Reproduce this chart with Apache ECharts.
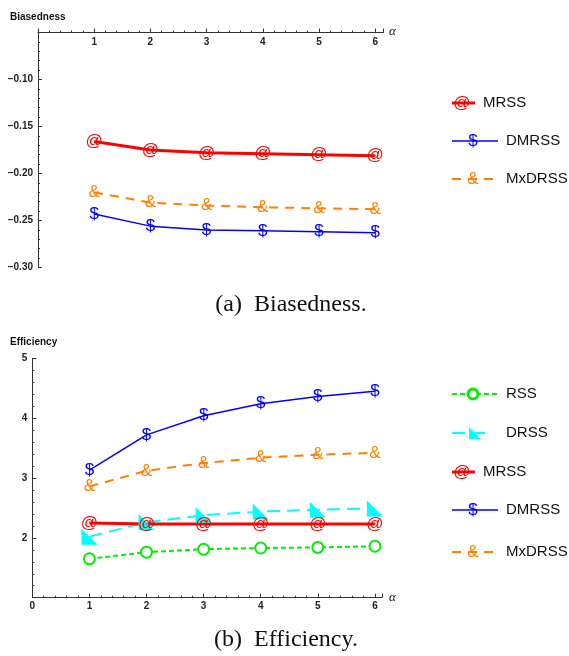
<!DOCTYPE html>
<html lang="en">
<head>
  <meta charset="UTF-8">
  <title>Biasedness and Efficiency</title>
  <script src="https://cdn.jsdelivr.net/npm/echarts@6/dist/echarts.min.js"></script>
  <style>
    html, body { margin: 0; padding: 0; background: #fff; }
    #chart { width: 569px; height: 656px; }
  </style>
</head>
<body>
  <div id="chart"></div>
  <script>
    const alpha = [1, 2, 3, 4, 5, 6]
    // (a) Biasedness
    const biasMRSS = [-0.166, -0.175, -0.178, -0.179, -0.180, -0.181]
    const biasDMRSS = [-0.243, -0.256, -0.260, -0.261, -0.262, -0.263]
    const biasMxDRSS = [-0.220, -0.231, -0.234, -0.236, -0.237, -0.238]
    // (b) Efficiency
    const effRSS = [1.65, 1.76, 1.81, 1.83, 1.84, 1.86]
    const effDRSS = [2.02, 2.26, 2.38, 2.44, 2.47, 2.49]
    const effMRSS = [2.25, 2.23, 2.23, 2.23, 2.23, 2.23]
    const effDMRSS = [3.13, 3.72, 4.04, 4.24, 4.36, 4.45]
    const effMxDRSS = [2.86, 3.12, 3.25, 3.34, 3.39, 3.42]

    const RED = '#ff0000', BLUE = '#0000ff', ORANGE = '#ff8000', GREEN = '#00ee00', CYAN = '#00ffff'
    const AXIS = '#333'
    const tickFont = { fontSize: 10, fontWeight: 'bold', color: '#222', fontFamily: 'Liberation Sans' }
    const ORANGE_DASH = [9, 7], GREEN_DASH = [5, 3], CYAN_DASH = [13, 7]

    const dom = document.getElementById('chart')
    const myChart = echarts.init(dom)

    function pairs(vals) {
      return alpha.map((a, i) => [a, vals[i]])
    }

    // line with a text glyph as marker
    function glyphLine(name, vals, idx, color, width, dash, glyph, size) {
      return {
        name: name,
        type: 'line',
        xAxisIndex: idx,
        yAxisIndex: idx,
        data: pairs(vals),
        symbol: 'circle',
        symbolSize: 1,
        itemStyle: { color: color },
        lineStyle: { color: color, width: width, type: dash },
        label: {
          show: true,
          position: 'inside',
          formatter: glyph,
          color: color,
          fontSize: size,
          fontFamily: 'Liberation Sans'
        },
        z: 3
      }
    }

    function xAxisCfg(idx, pos, max, showZero) {
      const top = pos === 'top'
      return {
        type: 'value',
        gridIndex: idx,
        position: pos,
        min: 0,
        max: max,
        interval: 1,
        axisLine: { onZero: false, lineStyle: { color: AXIS, width: 1 } },
        axisTick: { inside: !top, length: 4, lineStyle: { color: AXIS } },
        minorTick: { show: true, splitNumber: 5, length: 2, lineStyle: { color: AXIS } },
        axisLabel: Object.assign({
          inside: top,
          margin: top ? 5 : 4,
          formatter: v => (Math.abs(v - Math.round(v)) < 1e-6 && (showZero || v > 0.5)) ? String(Math.round(v)) : ''
        }, tickFont),
        splitLine: { show: false }
      }
    }

    function yAxisCfg(idx, min, max, interval, fmt) {
      return {
        type: 'value',
        gridIndex: idx,
        min: min,
        max: max,
        interval: interval,
        axisLine: { onZero: true, lineStyle: { color: AXIS, width: 1 } },
        axisTick: { inside: true, length: 4, lineStyle: { color: AXIS } },
        minorTick: { show: true, splitNumber: 5, length: 2, lineStyle: { color: AXIS } },
        axisLabel: Object.assign({ margin: 5, formatter: fmt }, tickFont),
        splitLine: { show: false }
      }
    }

    // legend drawn as graphic pieces
    function legendItem(y, cfg) {
      const items = [{
        type: 'line',
        shape: { x1: 452, y1: y, x2: cfg.x2, y2: y },
        style: { stroke: cfg.color, lineWidth: cfg.width, lineDash: cfg.dash || null }
      }]
      if (cfg.glyph) {
        items.push({
          type: 'text', x: cfg.gx, y: y,
          style: { text: cfg.glyph, fill: cfg.color, fontSize: cfg.gsize, fontFamily: 'Liberation Sans', align: 'center', verticalAlign: 'middle' }
        })
      } else if (cfg.circle) {
        items.push({
          type: 'circle', shape: { cx: cfg.gx, cy: y, r: 5 },
          style: { fill: '#fff', stroke: cfg.color, lineWidth: 3 }
        })
      } else if (cfg.tri) {
        items.push({
          type: 'polygon', shape: { points: [[cfg.gx - 5, y - 6], [cfg.gx - 5, y + 6], [cfg.gx + 7, y + 6]] },
          style: { fill: cfg.color }
        })
      }
      items.push({
        type: 'text', x: cfg.tx, y: y,
        style: { text: cfg.text, fill: '#111', fontSize: 15, fontFamily: 'Liberation Sans', verticalAlign: 'middle' }
      })
      return items
    }

    const graphics = [].concat(
      legendItem(103, { x2: 475, color: RED, width: 3, glyph: '@', gx: 462, gsize: 17, tx: 483, text: 'MRSS' }),
      legendItem(141, { x2: 498, color: BLUE, width: 1.5, glyph: '$', gx: 473, gsize: 17, tx: 506, text: 'DMRSS' }),
      legendItem(179, { x2: 494, color: ORANGE, width: 2, dash: ORANGE_DASH, glyph: '&', gx: 473, gsize: 17, tx: 506, text: 'MxDRSS' }),
      legendItem(394, { x2: 498, color: GREEN, width: 2, dash: GREEN_DASH, circle: true, gx: 473, tx: 506, text: 'RSS' }),
      legendItem(433, { x2: 490, color: CYAN, width: 2, dash: CYAN_DASH, tri: true, gx: 474, tx: 506, text: 'DRSS' }),
      legendItem(472, { x2: 475, color: RED, width: 3, glyph: '@', gx: 462, gsize: 17, tx: 483, text: 'MRSS' }),
      legendItem(510, { x2: 498, color: BLUE, width: 1.5, glyph: '$', gx: 473, gsize: 17, tx: 506, text: 'DMRSS' }),
      legendItem(552, { x2: 494, color: ORANGE, width: 2, dash: ORANGE_DASH, glyph: '&', gx: 473, gsize: 17, tx: 506, text: 'MxDRSS' }),
      [
        { type: 'text', x: 10, y: 17, style: { text: 'Biasedness', fill: '#111', fontSize: 10, fontWeight: 'bold', fontFamily: 'Liberation Sans', verticalAlign: 'middle' } },
        { type: 'text', x: 10, y: 342, style: { text: 'Efficiency', fill: '#111', fontSize: 10, fontWeight: 'bold', fontFamily: 'Liberation Sans', verticalAlign: 'middle' } },
        { type: 'text', x: 389, y: 32, style: { text: 'α', fill: '#111', fontSize: 13, fontStyle: 'italic', fontFamily: 'Liberation Serif', verticalAlign: 'middle' } },
        { type: 'text', x: 389, y: 598, style: { text: 'α', fill: '#111', fontSize: 13, fontStyle: 'italic', fontFamily: 'Liberation Serif', verticalAlign: 'middle' } },
        { type: 'text', x: 291, y: 305, style: { text: '(a)  Biasedness.', fill: '#111', fontSize: 24, fontFamily: 'Liberation Serif', align: 'center', verticalAlign: 'middle' } },
        { type: 'text', x: 286, y: 640, style: { text: '(b)  Efficiency.', fill: '#111', fontSize: 24, fontFamily: 'Liberation Serif', align: 'center', verticalAlign: 'middle' } }
      ]
    )

    const option = {
      backgroundColor: '#fff',
      animation: false,
      grid: [
        { left: 38, top: 32.5, width: 345.6, height: 235 },
        { left: 32.3, top: 358.3, width: 349.5, height: 239.4 }
      ],
      xAxis: [
        xAxisCfg(0, 'top', 6.15, false),
        xAxisCfg(1, 'bottom', 6.12, true)
      ],
      yAxis: [
        yAxisCfg(0, -0.30, -0.05, 0.05, v => v > -0.07 ? '' : '\u2212' + Math.abs(v).toFixed(2)),
        yAxisCfg(1, 1, 5, 1, v => (v < 1.5 || Math.abs(v - Math.round(v)) > 1e-6) ? '' : String(Math.round(v)))
      ],
      series: [
        glyphLine('MRSS', biasMRSS, 0, RED, 3, 'solid', '@', 17),
        glyphLine('MxDRSS', biasMxDRSS, 0, ORANGE, 2, ORANGE_DASH, '&', 17),
        glyphLine('DMRSS', biasDMRSS, 0, BLUE, 1.5, 'solid', '$', 17),
        {
          name: 'RSS', type: 'line', xAxisIndex: 1, yAxisIndex: 1, data: pairs(effRSS),
          symbol: 'emptyCircle', symbolSize: 11,
          itemStyle: { color: GREEN, borderColor: GREEN, borderWidth: 3 },
          lineStyle: { color: GREEN, width: 2, type: GREEN_DASH }
        },
        {
          name: 'DRSS', type: 'line', xAxisIndex: 1, yAxisIndex: 1, data: pairs(effDRSS),
          symbol: 'path://M0,0L0,10L10,10Z', symbolSize: 16,
          itemStyle: { color: CYAN },
          lineStyle: { color: CYAN, width: 2, type: CYAN_DASH }
        },
        glyphLine('MRSS', effMRSS, 1, RED, 3, 'solid', '@', 17),
        glyphLine('DMRSS', effDMRSS, 1, BLUE, 1.5, 'solid', '$', 17),
        glyphLine('MxDRSS', effMxDRSS, 1, ORANGE, 2, ORANGE_DASH, '&', 17)
      ],
      graphic: graphics
    }

    myChart.setOption(option)
  </script>
</body>
</html>
